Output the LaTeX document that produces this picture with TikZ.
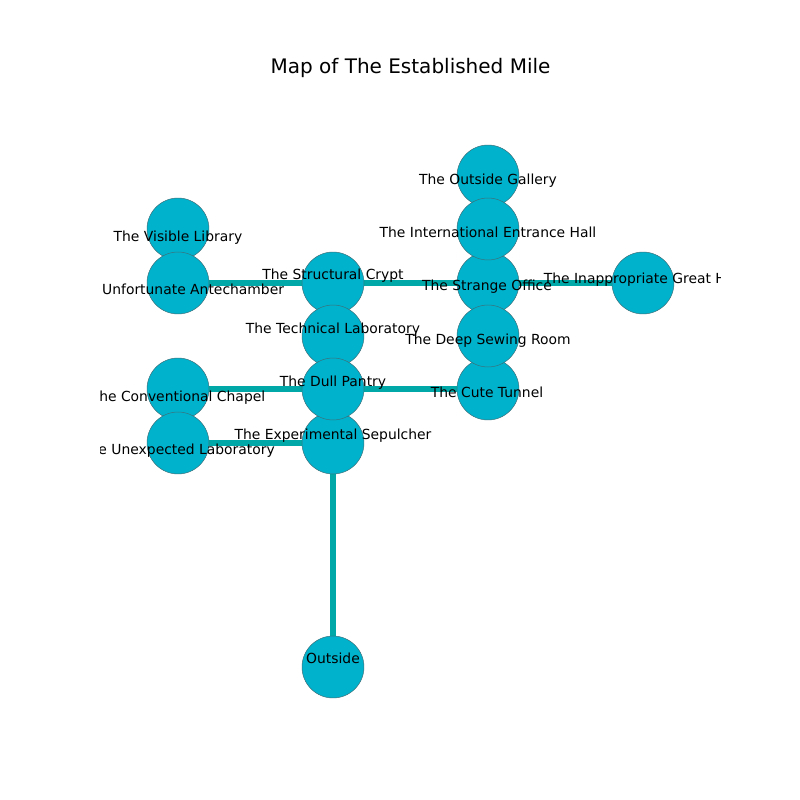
\documentclass[tikz,border=0pt]{standalone}
\usepackage{fontspec}
\setmainfont{DejaVu Sans}
\usetikzlibrary{backgrounds}
\definecolor{nodefill}{RGB}{0,178,204}
\definecolor{nodeline}{RGB}{60,110,120}
\definecolor{edgecol}{RGB}{0,168,168}
\tikzset{
  room/.style={circle, fill=nodefill, draw=nodeline, line width=0.35pt, minimum size=44.6pt, inner sep=0pt},
  lbl/.style={anchor=base, inner sep=0pt, font=\fontsize{10}{12}\selectfont, text=black},
  passage/.style={draw=edgecol, line width=3.9pt},
  ttl/.style={anchor=base, inner sep=0pt, font=\fontsize{14.4}{17}\selectfont}
}
\begin{document}
\begin{tikzpicture}[x=0.72pt,y=-0.72pt]
\useasboundingbox (0,0) rectangle (800,800);
% circles (named), positioned in pixel coordinates
\node[room] (vis) at (178,229) {};
\node[room] (unf) at (178,283) {};
\node[room] (con) at (178,389) {};
\node[room] (une) at (178,443) {};
\node[room] (str) at (333,283) {};
\node[room] (tec) at (333,336) {};
\node[room] (exp) at (333,443) {};
\node[room] (dul) at (333,389) {};
\node[room] (out) at (333,667) {};
\node[room] (gal) at (488,176) {};
\node[room] (stg) at (488,283) {};
\node[room] (int) at (488,229) {};
\node[room] (cut) at (488,389) {};
\node[room] (dee) at (488,336) {};
\node[room] (ina) at (643,283) {};
% edges behind the nodes
\begin{scope}[on background layer]
\fill[white] (0,0) rectangle (800,800);
\draw[passage] (unf.center) -- (str.center);
\draw[passage] (str.center) -- (stg.center);
\draw[passage] (stg.center) -- (ina.center);
\draw[passage] (con.center) -- (dul.center);
\draw[passage] (dul.center) -- (cut.center);
\draw[passage] (une.center) -- (exp.center);
\draw[passage] (exp.center) -- (out.center);
\end{scope}
% labels, clipped to the plot area
\begin{scope}
\clip (100,0) rectangle (720,800);
\node[lbl] (tvis) at (178,241) {The Visible Library};
\node[lbl] (tunf) at (178,294) {The Unfortunate Antechamber};
\node[lbl] (tcon) at (178,401) {The Conventional Chapel};
\node[lbl] (tune) at (178,454) {The Unexpected Laboratory};
\node[lbl] (tstr) at (333,279) {The Structural Crypt};
\node[lbl] (ttec) at (333,333) {The Technical Laboratory};
\node[lbl] (tdul) at (333,386) {The Dull Pantry};
\node[lbl] (texp) at (333,439) {The Experimental Sepulcher};
\node[lbl] (tout) at (333,663) {Outside};
\node[lbl] (tgal) at (488,184) {The Outside Gallery};
\node[lbl] (tint) at (488,237) {The International Entrance Hall};
\node[lbl] (tstg) at (487,290) {The Strange Office};
\node[lbl] (tdee) at (488,344) {The Deep Sewing Room};
\node[lbl] (tcut) at (487,397) {The Cute Tunnel};
\node[lbl] (tina) at (643,283) {The Inappropriate Great Hall};
\end{scope}
\node[ttl] (title) at (410.5,73) {Map of The Established Mile};
\end{tikzpicture}
\end{document}
